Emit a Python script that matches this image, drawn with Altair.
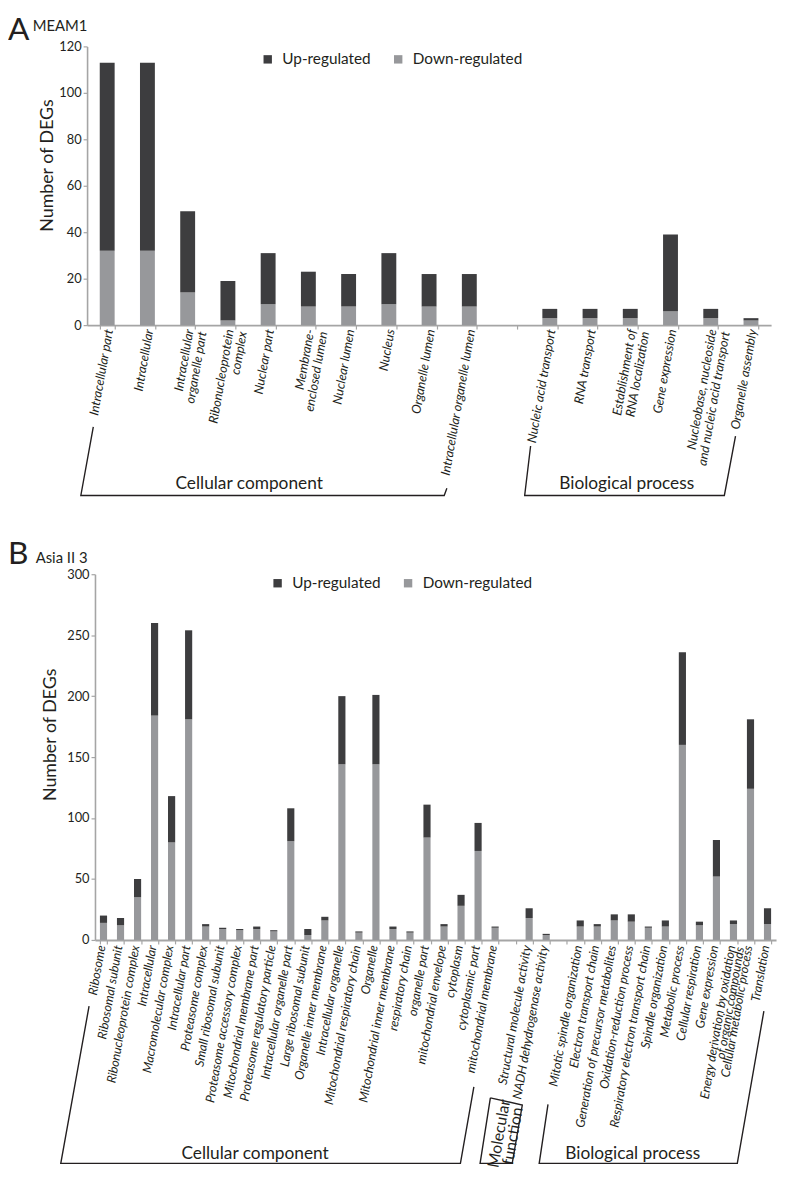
import altair as alt
import pandas as pd

# ---------------- data ----------------
a_categories = [
    "Intracellular part", "Intracellular", "Intracellular\norganelle part",
    "Ribonucleoprotein\ncomplex", "Nuclear part", "Membrane-\nenclosed lumen",
    "Nuclear lumen", "Nucleus", "Organelle lumen", "Intracellular organelle lumen",
    "Nucleic acid transport", "RNA transport", "Establishment of\nRNA localization",
    "Gene expression", "Nucleobase, nucleoside\nand nucleic acid transport",
    "Organelle assembly",
]
a_up = [81, 81, 35, 17, 22, 15, 14, 22, 14, 14, 4, 4, 4, 33, 4, 1]
a_down = [32, 32, 14, 2, 9, 8, 8, 9, 8, 8, 3, 3, 3, 6, 3, 2]
a_ticks = [0, 20, 40, 60, 80, 100, 120]

b_categories = [
    "Ribosome", "Ribosomal subunit", "Ribonucleoprotein complex", "Intracellular",
    "Macromolecular complex", "Intracellular part", "Proteasome complex",
    "Small ribosomal subunit", "Proteasome accessory complex",
    "Mitochondrial membrane part", "Proteasome regulatory particle",
    "Intracellular organelle part", "Large ribosomal subunit",
    "Organelle inner membrane", "Intracellular organelle",
    "Mitochondrial respiratory chain", "Organelle", "Mitochondrial inner membrane",
    "respiratory chain", "organelle part", "mitochondrial envelope", "cytoplasm",
    "cytoplasmic part", "mitochondrial membrane",
    "Structural molecule activity", "NADH dehydrogenase activity",
    "Mitotic spindle organization", "Electron transport chain",
    "Generation of precursor metabolites", "Oxidation-reduction process",
    "Respiratory electron transport chain", "Spindle organization",
    "Metabolic process", "Cellular respiration", "Gene expression",
    "Energy derivation by oxidation\nof organic compounds",
    "Cellular metabolic process", "Translation",
]
b_down = [14, 12, 35, 184, 80, 181, 11, 9, 8, 9, 7, 81, 4, 16, 144, 6, 144, 9, 6, 84,
          11, 28, 73, 10, 18, 4, 11, 11, 16, 15, 10, 11, 160, 12, 52, 13, 124, 13]
b_up = [6, 6, 15, 76, 38, 73, 2, 1, 1, 2, 1, 27, 5, 3, 56, 1, 57, 2, 1, 27,
        2, 9, 23, 1, 8, 1, 5, 2, 5, 6, 1, 5, 76, 3, 30, 3, 57, 13]
b_ticks = [0, 50, 100, 150, 200, 250, 300]

series = ["Up-regulated", "Down-regulated"]

# slots (empty slots separate the GO groups)
a_slots = a_categories[:10] + [" "] + a_categories[10:]
b_slots = b_categories[:24] + [" "] + b_categories[24:26] + ["  "] + b_categories[26:]

# ---------------- style ----------------
DARK = "#3d3d3f"
GREY = "#97989b"
INK = "#231f20"
AXC = "#a5a5a5"
FONT = "Lato"


def long_df(cats, up, down):
    rows = []
    for c, u, d in zip(cats, up, down):
        rows.append({"cat": c, "type": "Down-regulated", "n": d, "ord": 0})
        rows.append({"cat": c, "type": "Up-regulated", "n": u, "ord": 1})
    return pd.DataFrame(rows)


def note(text, x, y, size, align="left", baseline="alphabetic", angle=0,
         italic=False, line_height=None):
    kw = dict(font=FONT, fontSize=size, align=align, baseline=baseline,
              color=INK, lineBreak="\n")
    if angle:
        kw["angle"] = angle
    if italic:
        kw["fontStyle"] = "italic"
    if line_height:
        kw["lineHeight"] = line_height
    return alt.Chart(pd.DataFrame({"t": [text]})).mark_text(**kw).encode(
        text="t:N", x=alt.value(x), y=alt.value(y))


def bracket(points):
    rows = []
    for g, pts in enumerate(points):
        for i, (px, py) in enumerate(pts):
            rows.append({"bx": px, "by": py, "g": g, "i": i})
    return alt.Chart(pd.DataFrame(rows)).mark_line(
        color=INK, strokeWidth=1.4, strokeJoin="miter").encode(
        x=alt.X("bx:Q", scale=None, axis=None),
        y=alt.Y("by:Q", scale=None, axis=None),
        detail="g:N", order="i:Q")


def panel(cats, slots, up, down, ticks, width, height, xrange, pin, pout,
          yoffset, title_x, title_y, leg_x, leg_y, lab_size, lab_lh, lab_dy, lab_y):
    df = long_df(cats, up, down)
    xsc = alt.Scale(domain=slots, range=xrange, paddingInner=pin, paddingOuter=pout)
    xax = alt.Axis(labels=False, title=None, tickBand="extent", domainColor=AXC,
                   domainWidth=2, tickColor=AXC, tickSize=4, tickWidth=1.2)
    ysc = alt.Scale(domain=[ticks[0], ticks[-1]], nice=False)
    yax = alt.Axis(values=ticks, title="Number of DEGs", grid=False, offset=yoffset,
                   domainColor=AXC, domainWidth=1.6, tickColor=AXC, tickSize=4,
                   tickWidth=1.2, labelFont=FONT, labelFontSize=13, labelColor=INK,
                   labelPadding=2, titleFont=FONT, titleFontSize=18,
                   titleFontWeight="normal", titleColor=INK, titleX=title_x,
                   titleY=title_y, titleBaseline="middle", titleAngle=270)
    bars = alt.Chart(df).mark_bar().encode(
        x=alt.X("cat:N", scale=xsc, axis=xax),
        y=alt.Y("n:Q", stack="zero", scale=ysc, axis=yax),
        color=alt.Color("type:N", scale=alt.Scale(domain=series, range=[DARK, GREY]),
                        legend=alt.Legend(orient="none", legendX=leg_x, legendY=leg_y,
                                          direction="horizontal", title=None,
                                          symbolType="square", symbolSize=72,
                                          symbolStrokeWidth=0, labelFont=FONT,
                                          labelFontSize=15.5, labelColor=INK,
                                          columnPadding=20, labelOffset=7, padding=0)),
        order=alt.Order("ord:Q"),
    )
    labels = alt.Chart(pd.DataFrame({"cat": cats})).mark_text(
        angle=280, align="right", baseline="middle", font=FONT, fontStyle="italic",
        fontSize=lab_size, lineBreak="\n", lineHeight=lab_lh, dy=lab_dy, color=INK,
    ).encode(x=alt.X("cat:N", scale=xsc, axis=xax), y=alt.value(lab_y), text="cat:N")
    return bars, labels


# ---------------- panel A ----------------
A_W, A_H = 684, 282
barsA, labA = panel(a_categories, a_slots, a_up, a_down, a_ticks, A_W, A_H,
                    [-8, A_W], 0.63, 0.315, 8, -40, 120, 167, 5, 12.8, 13.5, 2, A_H + 4)
bracketA = bracket([
    [(-1.7, 385), (-14.3, 454.3), (353.3, 454.3), (356, 447)],
    [(440.7, 404.3), (434.7, 454.3), (636.7, 454.3), (648, 394.3)],
])
chartA = alt.layer(
    barsA, labA, bracketA,
    note("A", -88, -31, 32, baseline="top"),
    note("MEAM1", -63, -16, 15),
    note("Cellular component", 156, 448, 17.5, align="center"),
    note("Biological process", 538, 448, 17.5, align="center"),
).properties(width=A_W, height=A_H)

# ---------------- panel B ----------------
B_W, B_H = 689, 370
barsB, labB = panel(b_categories, b_slots, b_up, b_down, b_ticks, B_W, B_H,
                    [0, B_W], 0.58, 0.29, 0, -44.5, 162, 177, 1, 12.6, 9, -2, B_H + 6)
bracketB = bracket([
    [(-6, 437), (-34.6, 596), (369.7, 596), (383.3, 518.7)],
    [(400, 529.7), (389.6, 596), (422.1, 596), (432.3, 537), (400, 529.7)],
    [(458.3, 536.3), (449.4, 596), (649.8, 596), (676.7, 442)],
])
chartB = alt.layer(
    barsB, labB, bracketB,
    note("B", -88, -10, 32),
    note("Asia II 3", -60, -11, 15),
    note("Cellular component", 162, 592, 17.5, align="center"),
    note("Biological process", 544, 592, 17.5, align="center"),
    note("Molecular\nfunction", 409, 566, 16, align="center", baseline="middle",
         angle=280, line_height=14),
).properties(width=B_W, height=B_H)

chart = alt.vconcat(chartA, chartB, spacing=252, bounds="flush").resolve_scale(
    color="independent", x="independent", y="independent"
).properties(padding=0, background="white").configure_view(stroke=None)

chart.save("out.html", embed_options={"renderer": "svg", "actions": False})
